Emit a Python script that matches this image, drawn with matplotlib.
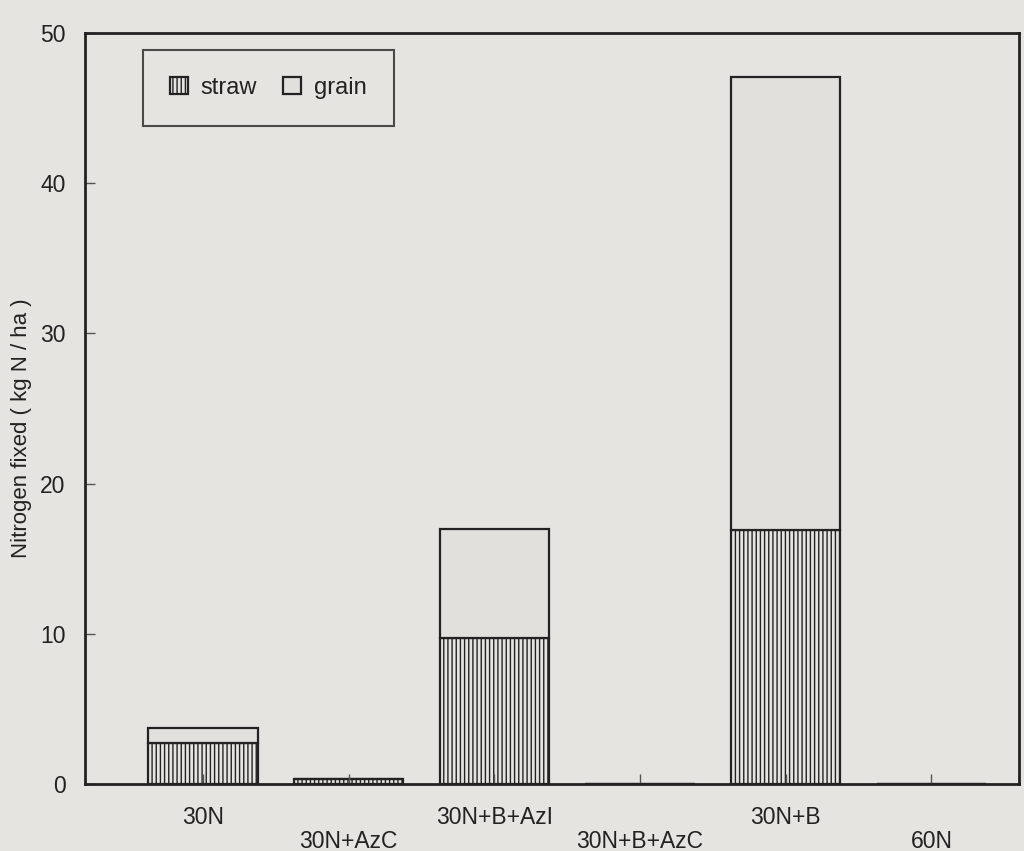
import matplotlib.pyplot as plt
import numpy as np

plt.rcParams['font.family'] = ['Liberation Sans', 'DejaVu Sans']
plt.rcParams['hatch.linewidth'] = 1.0

treatments = ['30N', '30N+AzC', '30N+B+AzI', '30N+B+AzC', '30N+B', '60N']
straw = [2.7, 0.35, 9.7, 0.0, 16.9, 0.0]
grain = [1.0, 0.0, 7.3, 0.0, 30.2, 0.0]

bg = '#e5e4e1'
ink = '#222222'

fig = plt.figure(figsize=(10.24, 8.51), dpi=100, facecolor=bg)
ax = fig.add_axes([0.083, 0.079, 0.912, 0.882], facecolor=bg)

x = np.arange(len(treatments))
w = 0.75
ax.bar(x, straw, w, color=bg, edgecolor=ink, hatch='||||', linewidth=1.6, label='straw')
ax.bar(x, grain, w, bottom=straw, color='#e1e0dd', edgecolor=ink, linewidth=1.6, label='grain')

ax.set_xlim(-0.81, 5.6)
ax.set_ylim(0, 50)
ax.set_yticks([0, 10, 20, 30, 40, 50])
ax.set_xticks(x)
# alternate the category labels so the long names do not collide
ax.set_xticklabels(['30N', '\n30N+AzC', '30N+B+AzI', '\n30N+B+AzC', '30N+B', '\n60N'],
                   linespacing=1.05)
ax.tick_params(axis='both', direction='in', length=7, width=1, color='#555555',
               labelsize=16.5, labelcolor=ink)
ax.tick_params(axis='y', pad=14)
ax.tick_params(axis='x', pad=16)
for s in ax.spines.values():
    s.set_linewidth(2)
    s.set_color(ink)

ax.set_ylabel('Nitrogen fixed ( kg N / ha )', fontsize=16, color=ink)
ax.yaxis.set_label_coords(-0.057, 0.474)

leg = ax.legend(loc='upper left', bbox_to_anchor=(0.062, 0.978), ncol=2, fontsize=17,
                frameon=True, fancybox=False, edgecolor=ink, facecolor=bg,
                handlelength=0.75, handleheight=0.75, handletextpad=0.55,
                columnspacing=1.1, borderpad=1.15, borderaxespad=0)
leg.get_frame().set_linewidth(1.5)
for t in leg.get_texts():
    t.set_color(ink)

fig.savefig('out.png', dpi=100, facecolor=bg)
